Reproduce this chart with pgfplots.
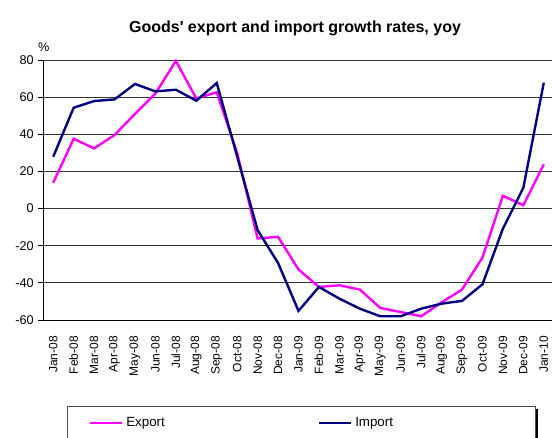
\documentclass[border=0pt]{standalone}
\usepackage{fontspec}
\setmainfont{Liberation Sans}
\usepackage{pgfplots}
\pgfplotsset{compat=1.18}

\definecolor{expcol}{RGB}{255,0,255}
\definecolor{impcol}{RGB}{0,0,128}

\begin{document}
\begin{tikzpicture}
\useasboundingbox (0,0) rectangle (414pt,327.75pt);
% legend frame with shadow, runs off the bottom edge like the original
\fill[black] (52.5pt,21pt) rectangle (403.5pt,-10pt);
\draw[black!70, fill=white, line width=0.6pt] (50.25pt,23.25pt) rectangle (401.25pt,-10pt);
\node[font=\bfseries\fontsize{12}{14}\selectfont] at (221.25pt,306.75pt) {Goods\textquotesingle{} export and import growth rates, yoy};
\begin{axis}[
    at={(32.25pt,87.75pt)}, anchor=south west,
    scale only axis, width=383.25pt, height=195pt,
    xmin=-0.5, xmax=24.5,
    ymin=-60, ymax=80,
    ytick={-60,-40,...,80},
    xtick={0,...,24},
    xticklabels={Jan-08,Feb-08,Mar-08,Apr-08,May-08,Jun-08,Jul-08,Aug-08,Sep-08,Oct-08,Nov-08,Dec-08,Jan-09,Feb-09,Mar-09,Apr-09,May-09,Jun-09,Jul-09,Aug-09,Sep-09,Oct-09,Nov-09,Dec-09,Jan-10},
    xticklabel shift=5pt,
    x tick label style={rotate=90, anchor=east, font=\fontsize{9}{10}\selectfont},
    y tick label style={font=\fontsize{9.5}{10}\selectfont},
    /pgf/number format/assume math mode=true,
    axis x line*=bottom, axis y line*=left,
    axis line style={black, line width=0.6pt, -},
    ymajorgrids, grid style={black!80, line width=0.6pt},
    major x tick style={draw=none},
    major y tick style={black, line width=0.6pt},
    tick align=outside, major tick length=3.5pt,
    clip=false,
    legend style={at={(axis description cs:0.09,-0.396)}, anchor=west, draw=none, fill=none,
        inner sep=0pt, legend columns=2, font=\fontsize{10}{11}\selectfont,
        /tikz/every even column/.append style={column sep=113pt}},
    legend image code/.code={\draw[#1] (0pt,0pt) -- (24pt,0pt);},
]
\addplot[expcol, line width=1.8pt] coordinates {
(0,13.9) (1,37.6) (2,32.4) (3,39.6) (4,51) (5,62) (6,79.5) (7,59.3) (8,62.6)
(9,30) (10,-16.1) (11,-15.2) (12,-32.8) (13,-42.2) (14,-41.3) (15,-43.6)
(16,-53.5) (17,-55.7) (18,-58) (19,-50.5) (20,-43.6) (21,-26.4) (22,6.9)
(23,1.8) (24,23.8)};
\addlegendentry{Export}
\addplot[impcol, line width=1.8pt] coordinates {
(0,27.9) (1,54.3) (2,57.9) (3,58.8) (4,67.1) (5,63.1) (6,64) (7,58.1) (8,67.6)
(9,28) (10,-11.6) (11,-29.3) (12,-55.1) (13,-42.2) (14,-48.5) (15,-53.9)
(16,-58) (17,-58) (18,-53.9) (19,-51.2) (20,-49.7) (21,-40.8) (22,-10.8)
(23,11.2) (24,67.8)};
\addlegendentry{Import}
\node[anchor=south west, inner sep=0pt, font=\fontsize{9.5}{10}\selectfont] at (axis description cs:-0.01,1.03) {\%};
\end{axis}
\end{tikzpicture}
\end{document}
